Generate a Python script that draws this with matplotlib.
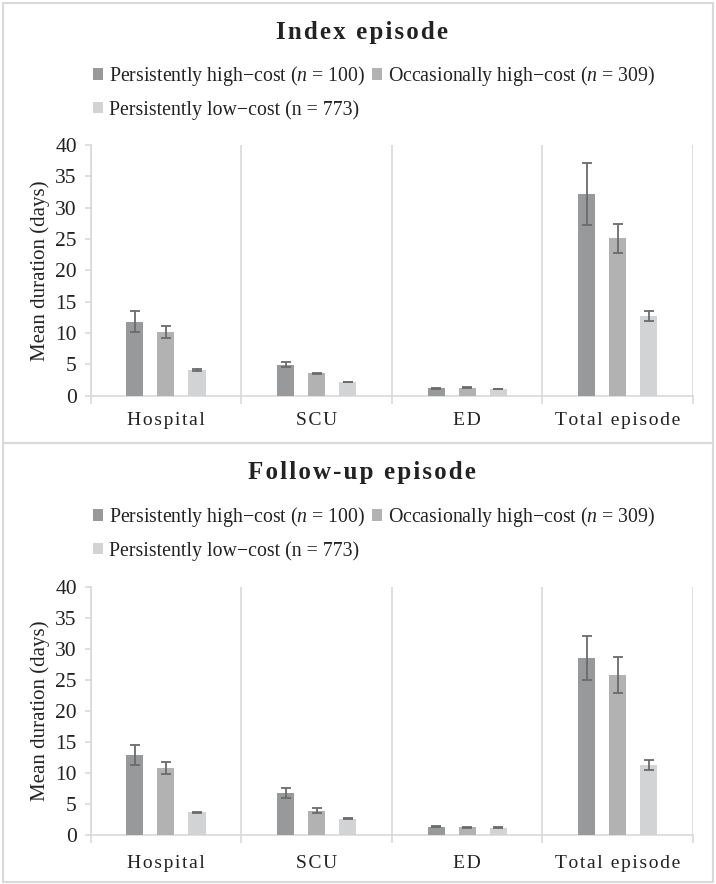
import matplotlib
matplotlib.use("Agg")
import matplotlib.pyplot as plt
from matplotlib.patches import Rectangle, Patch
import numpy as np

plt.rcParams['font.family'] = ['Liberation Serif', 'DejaVu Serif']
plt.rcParams['mathtext.fontset'] = 'custom'
plt.rcParams['mathtext.it'] = 'Liberation Serif:italic'
plt.rcParams['mathtext.rm'] = 'Liberation Serif'

categories = ["Hospital", "SCU", "ED", "Total episode"]
groups = ["Persistently high\u2212cost ($n$ = 100)",
          "Occasionally high\u2212cost ($n$ = 309)",
          "Persistently low\u2212cost (n = 773)"]
colors = ["#98999b", "#b2b2b3", "#d2d3d4"]

# index episode: means and error half-widths
index_high = [11.8, 4.9, 1.17, 32.2]
index_occ = [10.1, 3.56, 1.28, 25.1]
index_low = [4.1, 2.2, 1.08, 12.7]
index_high_err = [1.65, 0.4, 0.06, 4.9]
index_occ_err = [0.95, 0.1, 0.05, 2.3]
index_low_err = [0.1, 0.05, 0.04, 0.8]

# follow-up episode
follow_high = [12.9, 6.8, 1.4, 28.5]
follow_occ = [10.8, 3.97, 1.29, 25.8]
follow_low = [3.7, 2.65, 1.23, 11.3]
follow_high_err = [1.55, 0.75, 0.07, 3.55]
follow_occ_err = [1.0, 0.4, 0.05, 2.95]
follow_low_err = [0.12, 0.08, 0.05, 0.75]

W, H = 716, 884
GRID = "#d9d9d9"
TXT = "#222222"


def spaced(s):
    # excel-style letter spacing
    return "\u200a".join(s)


fig = plt.figure(figsize=(W / 100, H / 100), dpi=100)

# panel frames
for y0, y1 in [(3, 443), (443, 882)]:
    fig.add_artist(Rectangle((3 / W, 1 - y1 / H), 710 / W, (y1 - y0) / H,
                             transform=fig.transFigure, fill=False,
                             edgecolor=GRID, linewidth=1.5))


def draw_panel(ax, title, title_y, leg_y, means, errs, xpad):
    x = np.arange(len(categories))
    offs = [-0.206, 0.0, 0.206]
    for i in range(3):
        ax.bar(x + offs[i], means[i], width=0.113, color=colors[i],
               yerr=errs[i], error_kw=dict(ecolor="#6b6b6b", elinewidth=1.3,
                                           capsize=3.6, capthick=1.3),
               zorder=3)
    ax.set_xlim(-0.5, len(categories) - 0.5)
    ax.set_ylim(0, 40)
    ax.set_yticks(np.arange(0, 41, 5))
    bounds = np.arange(-0.5, len(categories), 1.0)
    ax.set_xticks(bounds)
    ax.set_xticklabels([])
    ax.set_xticks(x, minor=True)
    ax.set_xticklabels([spaced(c) for c in categories], minor=True)
    ax.tick_params(axis='x', which='major', length=6, color=GRID, width=1.2)
    ax.tick_params(axis='x', which='minor', length=0, pad=xpad,
                   labelsize=14, labelcolor=TXT)
    ax.tick_params(axis='y', length=4, color=GRID, width=1.2,
                   labelsize=15.5, labelcolor=TXT, pad=6)
    for b in bounds:
        ax.axvline(b, color=GRID, linewidth=1.2, zorder=0)
    for s in ['top', 'right']:
        ax.spines[s].set_visible(False)
    for s in ['left', 'bottom']:
        ax.spines[s].set_color(GRID)
        ax.spines[s].set_linewidth(1.2)
    ax.set_ylabel("Mean duration (days)", fontsize=15, color=TXT, labelpad=4)

    fig.text(0.505, 1 - title_y / H, spaced(title), ha='center', va='center',
             fontsize=18, fontweight='bold', color=TXT)
    handles = [Patch(facecolor=c, edgecolor='none') for c in colors]
    order = [0, 2, 1]
    fig.legend([handles[i] for i in order], [groups[i] for i in order],
               ncol=2, loc='center left', bbox_to_anchor=(93 / W, 1 - leg_y / H),
               frameon=False, fontsize=14.3, handlelength=0.5, handleheight=0.5,
               handletextpad=0.3, columnspacing=0.35, labelspacing=0.6,
               borderpad=0, borderaxespad=0, labelcolor=TXT)


ax1 = fig.add_axes([90.7 / W, 1 - 395.7 / H, 602.3 / W, 250.7 / H])
draw_panel(ax1, "Index episode", 33, 92,
           [index_high, index_occ, index_low],
           [index_high_err, index_occ_err, index_low_err], 11.5)

ax2 = fig.add_axes([90.7 / W, 1 - 835.3 / H, 602.3 / W, 248.6 / H])
draw_panel(ax2, "Follow-up episode", 473, 533,
           [follow_high, follow_occ, follow_low],
           [follow_high_err, follow_occ_err, follow_low_err], 14)

fig.savefig("out.png", dpi=100)
